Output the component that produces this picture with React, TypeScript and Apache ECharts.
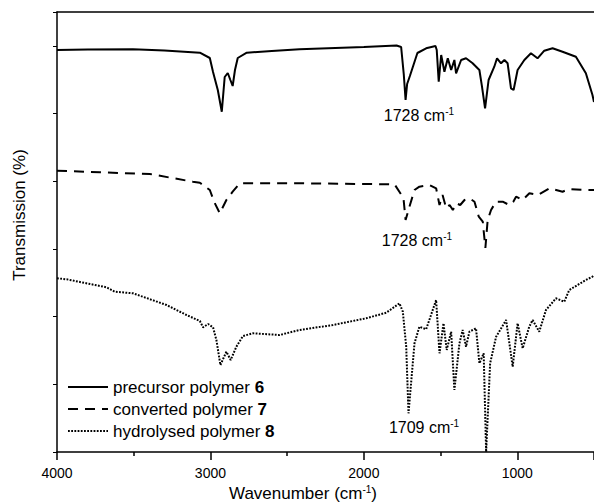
import React, { useEffect, useRef } from 'react';
import * as echarts from 'echarts';

const FONT = '"Liberation Sans", Arial, Helvetica, sans-serif';

// wavenumber axis (cm-1), shown reversed: 4000 on the left, 500 on the right
const xMin = 4000;
const xMax = 500;
const xInterval = 1000;

// transmission in arbitrary offset units (no y labels in the original)
const yMax = 440;
const yInterval = 67.7;

const seriesNames = ['precursor polymer 6', 'converted polymer 7', 'hydrolysed polymer 8'];
const seriesLabels = ['precursor polymer {b|6}', 'converted polymer {b|7}', 'hydrolysed polymer {b|8}'];

// [wavenumber, transmission]
const precursor6: [number, number][] = [
  [4000, 402], [3800, 402.5], [3505, 402.7], [3300, 401.5], [3069, 399.3], [3004, 394],
  [2983, 380], [2952, 362], [2926, 340.3], [2907, 375], [2887, 379], [2870, 372],
  [2855, 366], [2840, 382], [2822, 394], [2763, 399.3], [2600, 401], [2419, 402.7],
  [2000, 405], [1787, 406.5], [1757, 405], [1740, 378], [1728, 352], [1718, 368],
  [1700, 376], [1651, 399], [1594, 403.7], [1533, 406], [1525, 402], [1512, 370.3],
  [1496, 397], [1475, 380.3], [1453, 393.7], [1431, 382], [1410, 392], [1399, 378.7],
  [1366, 392], [1334, 393.7], [1291, 388.7], [1247, 382], [1230, 365.3], [1210, 343.7],
  [1187, 372], [1150, 385.3], [1132, 393.7], [1106, 388.7], [1084, 392], [1063, 388.7],
  [1041, 363.7], [1024, 362], [998, 382], [954, 392], [911, 398.7], [868, 393.7],
  [824, 401.3], [770, 403.7], [705, 400.3], [618, 395.3], [553, 378.7], [510, 357], [500, 350],
];

const converted7: [number, number][] = [
  [4000, 281.3], [3720, 279.7], [3395, 278], [3115, 270.3], [3069, 269.3], [3004, 262],
  [2972, 249], [2939, 238.7], [2896, 252], [2855, 260.3], [2809, 268.7], [2419, 268.7],
  [1800, 267.7], [1742, 254], [1728, 232], [1703, 245.3], [1670, 262], [1638, 265.3],
  [1573, 267], [1529, 263.7], [1507, 247], [1487, 257], [1463, 243.7], [1441, 247],
  [1420, 242], [1398, 248.7], [1372, 247], [1344, 252], [1311, 253.7], [1279, 250.3],
  [1251, 235.3], [1225, 230.3], [1208, 204], [1193, 232], [1171, 242], [1139, 250.3],
  [1095, 250.3], [1052, 247], [1026, 250.3], [1008, 255.3], [965, 252], [921, 258.7],
  [867, 257], [791, 263.7], [705, 260.3], [661, 263], [563, 262], [509, 262], [500, 262],
];

const hydrolysed8: [number, number][] = [
  [4000, 173.7], [3937, 172.7], [3677, 164.7], [3623, 160.3], [3505, 158.7], [3286, 147],
  [3156, 137], [3069, 131], [3048, 124.7], [3015, 128], [2983, 124.7], [2961, 112],
  [2935, 87], [2896, 100.3], [2868, 92], [2831, 105.3], [2788, 116], [2722, 118.7],
  [2549, 117], [2419, 122], [2202, 127], [1985, 133.7], [1854, 139.3], [1768, 148.7],
  [1746, 140.3], [1724, 105.3], [1709, 38.7], [1670, 108.7], [1638, 125.3], [1594, 122.7],
  [1529, 152], [1507, 98.7], [1481, 128.7], [1460, 102], [1431, 120.3], [1410, 62],
  [1377, 108.7], [1356, 122], [1334, 105.3], [1312, 120.3], [1269, 123.7], [1247, 88.7],
  [1219, 98.7], [1203, 0], [1177, 88.7], [1138, 115.3], [1073, 132], [1030, 85.3],
  [998, 128.7], [965, 103.7], [922, 125.3], [900, 132], [857, 120.3], [813, 142],
  [748, 153.7], [694, 150.3], [661, 162], [553, 172], [510, 175.3], [500, 177],
];

// peak annotations: text, anchor wavenumber, anchor transmission
const annotationTexts = ['1728 cm{sup|-1}', '1728 cm{sup|-1}', '1709 cm{sup|-1}'];
const annotationAt: [number, number][] = [[1641, 337], [1654, 212], [1608, 25]];

const supRich = {
  sup: { fontSize: 10, fontFamily: FONT, color: '#000', verticalAlign: 'top' as const, lineHeight: 10 },
};

export default function App() {
  const ref = useRef<HTMLDivElement>(null);
  useEffect(() => {
    document.body.style.margin = '0';
    const chart = echarts.init(ref.current!, null, { renderer: 'svg' });
    const dataSets = [precursor6, converted7, hydrolysed8];
    const lineTypes: any[] = ['solid', [10, 7], [1.8, 1.4]];
    chart.setOption({
      animation: false,
      backgroundColor: '#fff',
      textStyle: { fontFamily: FONT },
      grid: { left: 57, right: 0, top: 12, bottom: 51, outerBoundsMode: 'none', containLabel: false },
      legend: {
        orient: 'vertical',
        left: 67,
        top: 378,
        padding: 0,
        itemWidth: 40,
        itemHeight: 14,
        itemGap: 4,
        data: seriesNames,
        itemStyle: { opacity: 0 },
        lineStyle: { opacity: 1 },
        formatter: (n: string) => seriesLabels[seriesNames.indexOf(n)],
        textStyle: {
          fontSize: 17,
          fontFamily: FONT,
          color: '#000',
          lineHeight: 18,
          rich: { b: { fontSize: 17, fontFamily: FONT, fontWeight: 'bold', color: '#000', lineHeight: 18 } },
        },
      },
      xAxis: [
        {
          type: 'value',
          min: -xMin,
          max: -xMax,
          interval: xInterval,
          name: 'Wavenumber (cm{sup|-1})',
          nameLocation: 'middle',
          nameGap: 31,
          nameTextStyle: {
            fontSize: 17,
            fontFamily: FONT,
            color: '#000',
            lineHeight: 18,
            padding: [0, 45, 0, 0],
            rich: supRich,
          },
          axisLine: { show: true, onZero: false, lineStyle: { color: '#000', width: 1.5 } },
          axisTick: { show: true, inside: false, length: 8, lineStyle: { color: '#000', width: 1.5 } },
          minorTick: { show: true, splitNumber: 2, length: 4, lineStyle: { color: '#000', width: 1.5 } },
          axisLabel: {
            show: true,
            margin: 14,
            fontSize: 14,
            fontFamily: FONT,
            color: '#000',
            showMaxLabel: false,
            formatter: (v: number) => (v === -xMax ? '' : String(-v)),
          },
          splitLine: { show: false },
        },
        {
          type: 'value',
          position: 'top',
          min: -xMin,
          max: -xMax,
          interval: xInterval,
          axisLine: { show: true, onZero: false, lineStyle: { color: '#000', width: 1.5 } },
          axisTick: { show: false },
          axisLabel: { show: false },
          splitLine: { show: false },
        },
      ],
      yAxis: {
        type: 'value',
        min: 0,
        max: yMax,
        interval: yInterval,
        name: 'Transmission (%)',
        nameLocation: 'middle',
        nameGap: 29,
        nameTextStyle: {
          fontSize: 17,
          fontFamily: FONT,
          color: '#000',
          padding: [0, 0, 0, 34],
        },
        axisLine: { show: true, onZero: false, lineStyle: { color: '#000', width: 1.5 } },
        axisTick: { show: true, inside: false, length: 4, lineStyle: { color: '#000', width: 1 } },
        axisLabel: { show: false },
        splitLine: { show: false },
      },
      series: dataSets.map((d, i) => ({
        type: 'line',
        name: seriesNames[i],
        data: d.map(([w, t]) => [-w, t]),
        showSymbol: false,
        symbol: 'none',
        smooth: false,
        clip: true,
        color: '#000',
        lineStyle: { color: '#000', width: 2, type: lineTypes[i] },
        markPoint: {
          silent: true,
          symbol: 'circle',
          symbolSize: 0,
          itemStyle: { color: 'transparent' },
          label: {
            show: true,
            position: 'inside',
            formatter: annotationTexts[i],
            fontSize: 16,
            fontFamily: FONT,
            color: '#000',
            lineHeight: 18,
            rich: supRich,
          },
          data: [{ coord: [-annotationAt[i][0], annotationAt[i][1]] }],
        },
      })),
    });
    return () => chart.dispose();
  }, []);
  return <div ref={ref} style={{ width: 594, height: 503 }} />;
}
